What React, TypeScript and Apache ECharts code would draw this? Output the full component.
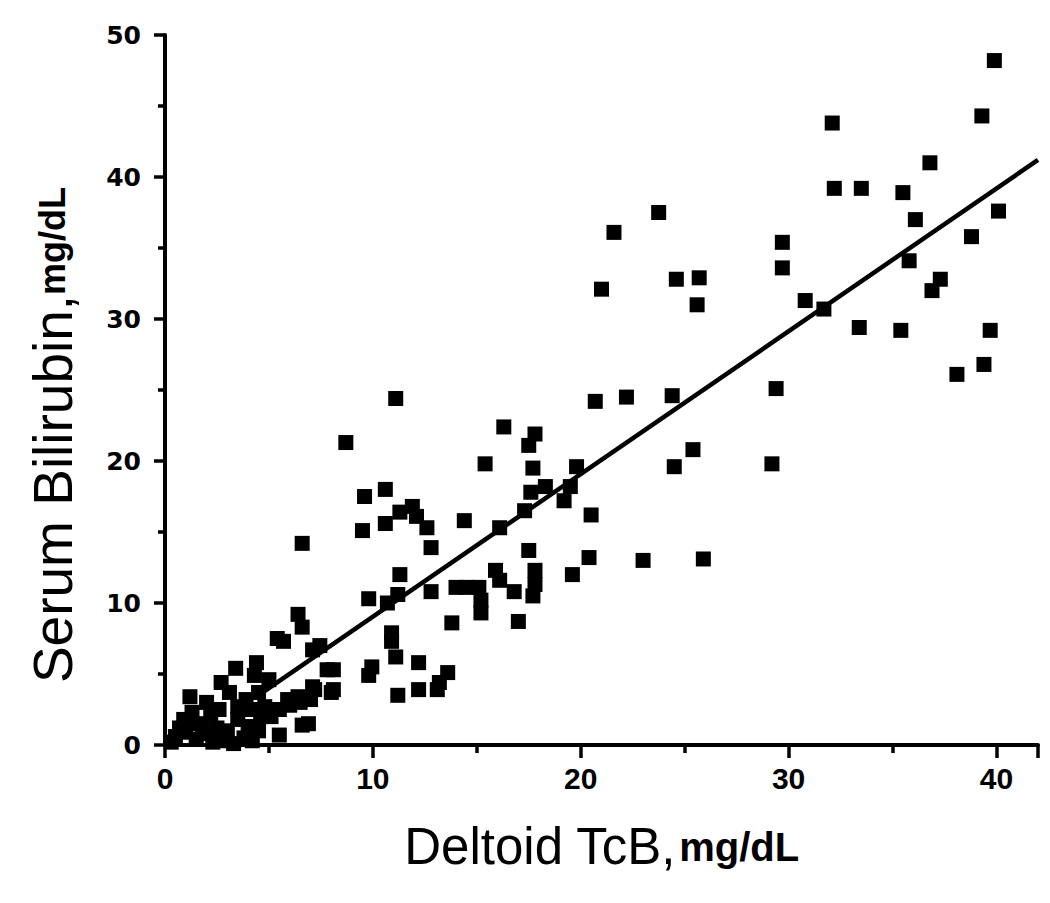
import React, { useEffect, useRef } from "react";
import * as echarts from "echarts";

const xTicks = [0, 10, 20, 30, 40];
const yTicks = [0, 10, 20, 30, 40, 50];

// Deltoid TcB (x) and Serum Bilirubin (y), mg/dL
const tcb = [
  39.9, 39.3, 32.1, 36.8, 32.2, 33.5, 35.5, 36.1, 40.1, 38.8, 29.7, 29.7, 35.8, 37.3, 36.9, 30.8, 31.7, 33.4, 35.4, 39.7, 39.4, 38.1, 29.4, 29.2,
  23.75, 21.6, 21.0, 24.6, 25.7, 25.6, 20.7, 22.2, 24.4, 16.3, 17.8, 17.5, 15.4, 17.7, 19.8, 25.4, 24.5, 18.3, 17.6, 19.5, 19.2, 17.3, 16.1, 14.4, 20.5, 17.5, 20.4, 23.0, 25.9, 15.9, 17.8, 19.6, 17.8, 17.7,
  11.1, 8.7, 9.6, 10.6, 11.9, 11.3, 12.1, 10.6, 9.5, 12.6, 12.8, 6.6, 11.3, 9.8, 10.7, 11.2, 12.8, 14.0, 14.5, 15.1, 15.2, 15.2, 16.1, 16.8, 17.0, 13.8, 10.9, 10.9, 11.1, 12.2, 9.95, 9.8, 8.1, 8.1, 13.6, 13.2, 13.1, 11.2, 12.2,
  5.4, 5.7, 6.4, 6.6, 7.1, 7.45, 7.8, 7.2, 8.0, 6.6, 6.9, 5.5,
  3.4, 4.4, 4.3, 5.0, 2.7, 1.2, 2.0, 3.1, 4.5, 6.4, 7.1, 5.9, 6.5, 7.0, 0.9, 0.5, 1.6, 2.2, 3.5, 3.5, 4.2, 4.8, 5.1, 0.3, 1.0, 1.5, 2.0, 2.5, 2.8, 3.0, 3.8, 4.0, 4.5, 1.3, 2.6, 3.9, 4.6, 5.5, 6.0, 1.8, 0.7, 2.3, 3.3, 4.2,
];
const serum = [
  48.2, 44.3, 43.8, 41.0, 39.2, 39.2, 38.9, 37.0, 37.6, 35.8, 35.4, 33.6, 34.1, 32.8, 32.0, 31.3, 30.7, 29.4, 29.2, 29.2, 26.8, 26.1, 25.1, 19.8,
  37.5, 36.1, 32.1, 32.8, 32.9, 31.0, 24.2, 24.5, 24.6, 22.4, 21.9, 21.1, 19.8, 19.5, 19.6, 20.8, 19.6, 18.2, 17.8, 18.2, 17.2, 16.5, 15.3, 15.8, 16.2, 13.7, 13.2, 13.0, 13.1, 12.3, 12.3, 12.0, 11.3, 10.5,
  24.4, 21.3, 17.5, 18.0, 16.8, 16.4, 16.1, 15.6, 15.1, 15.3, 13.9, 14.2, 12.0, 10.3, 10.0, 10.6, 10.8, 11.1, 11.1, 11.1, 10.2, 9.3, 11.6, 10.8, 8.7, 8.6, 7.9, 7.3, 6.2, 5.8, 5.5, 4.9, 5.3, 3.9, 5.1, 4.4, 3.9, 3.5, 3.9,
  7.5, 7.3, 9.2, 8.3, 6.7, 7.0, 5.3, 3.9, 3.7, 1.4, 1.5, 0.7,
  5.4, 5.8, 4.9, 4.6, 4.4, 3.4, 3.0, 3.7, 3.7, 3.4, 4.1, 3.2, 3.0, 3.2, 1.8, 0.6, 1.5, 2.0, 2.7, 1.8, 2.5, 2.7, 2.0, 0.2, 0.9, 0.4, 0.8, 1.2, 0.3, 1.0, 0.5, 1.3, 1.0, 2.3, 2.5, 3.2, 2.0, 2.5, 2.8, 1.1, 1.2, 0.2, 0.1, 0.3,
];

// Linear fit line end points
const fitX = [4.7, 42];
const fitY = [3.7, 41.2];

export default function App() {
  const ref = useRef<HTMLDivElement>(null);
  useEffect(() => {
    if (!ref.current) return;
    const chart = echarts.init(ref.current, null, { renderer: "svg" });
    const pts = tcb.map((x, i) => [x, serum[i]]);
    const fit = fitX.map((x, i) => [x, fitY[i]]);
    const axisLine = { lineStyle: { color: "#000", width: 4 } };
    chart.setOption({
      animation: false,
      backgroundColor: "#fff",
      grid: { left: 165, right: 12, top: 35, bottom: 158, containLabel: false },
      xAxis: {
        type: "value",
        min: 0,
        max: 42,
        interval: 10,
        name: "{a|Deltoid TcB,} {b|mg/dL}",
        nameLocation: "middle",
        nameGap: 76,
        nameTextStyle: {
          rich: {
            a: { fontFamily: "'Liberation Sans', Arial, sans-serif", fontSize: 51, color: "#000" },
            b: { fontFamily: "'Liberation Sans', Arial, sans-serif", fontSize: 40, fontWeight: "bold", color: "#000" },
          },
        },
        axisLine,
        axisTick: { show: true, length: 13, lineStyle: { color: "#000", width: 3.5 } },
        minorTick: { show: true, splitNumber: 2, length: 8, lineStyle: { color: "#000", width: 3.5 } },
        splitLine: { show: false },
        axisLabel: {
          color: "#000",
          fontFamily: "'Liberation Sans', Arial, sans-serif",
          fontWeight: "bold",
          fontSize: 30,
          margin: 18,
          showMaxLabel: false,
          formatter: (v: number) => (xTicks.includes(v) ? String(v) : ""),
        },
      },
      yAxis: {
        type: "value",
        min: 0,
        max: 50,
        interval: 10,
        name: "{a|Serum Bilirubin,}{b|mg/dL}",
        nameLocation: "middle",
        nameGap: 85,
        nameRotate: 90,
        nameTextStyle: {
          padding: [0, 90, 0, 0],
          rich: {
            a: { fontFamily: "'Liberation Sans', Arial, sans-serif", fontSize: 55, color: "#000" },
            b: { fontFamily: "'Liberation Sans', Arial, sans-serif", fontSize: 36, fontWeight: "bold", color: "#000" },
          },
        },
        axisLine,
        axisTick: { show: true, length: 11, lineStyle: { color: "#000", width: 3.5 } },
        minorTick: { show: true, splitNumber: 2, length: 7, lineStyle: { color: "#000", width: 3.5 } },
        splitLine: { show: false },
        axisLabel: {
          color: "#000",
          fontFamily: "'DejaVu Sans', sans-serif",
          fontWeight: "bold",
          fontSize: 25,
          margin: 24,
          formatter: (v: number) => (yTicks.includes(v) ? String(v) : ""),
        },
      },
      series: [
        {
          type: "scatter",
          data: pts,
          symbol: "rect",
          symbolSize: 15,
          itemStyle: { color: "#000", opacity: 1 },
          z: 2,
        },
        {
          type: "line",
          data: fit,
          symbol: "none",
          lineStyle: { color: "#000", width: 4.5 },
          z: 3,
        },
      ],
    });
    return () => chart.dispose();
  }, []);
  return <div ref={ref} style={{ width: 1050, height: 903, position: "absolute", left: 0, top: 0 }} />;
}
